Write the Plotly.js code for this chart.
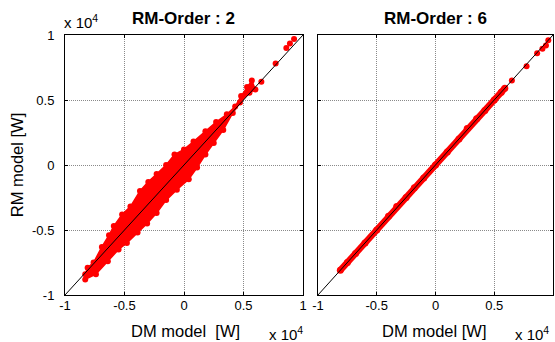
<!DOCTYPE html>
<html>
<head>
<meta charset="utf-8">
<script src="https://cdn.plot.ly/plotly-3.0.1.min.js"></script>
<style>
  html, body { margin: 0; padding: 0; background: #fff; }
  #chart { width: 555px; height: 342px; }
</style>
</head>
<body>
<div id="chart"></div>
<script>
// Power values in units of 1e4 W: DM model (x) against RM model (y).

// RM-Order 2: outline of the dense point cloud, upper edge then lower edge
const order2CloudX = [-0.83, -0.81, -0.76, -0.69, -0.63, -0.59, -0.52, -0.45, -0.37, -0.30, -0.23, -0.15, -0.08, 0.00, 0.08, 0.18, 0.27, 0.36, 0.43, 0.48, 0.53, 0.57,
                      0.60, 0.55, 0.47, 0.41, 0.33, 0.25, 0.18, 0.11, 0.04, -0.06, -0.15, -0.23, -0.31, -0.39, -0.48, -0.55, -0.64, -0.74, -0.83];
const order2CloudY = [-0.84, -0.79, -0.75, -0.63, -0.54, -0.47, -0.38, -0.32, -0.20, -0.13, -0.07, 0.00, 0.08, 0.12, 0.18, 0.26, 0.33, 0.39, 0.45, 0.53, 0.60, 0.65,
                      0.58, 0.555, 0.48, 0.40, 0.27, 0.17, 0.08, -0.02, -0.11, -0.19, -0.27, -0.37, -0.45, -0.52, -0.60, -0.65, -0.74, -0.84, -0.88];
// RM-Order 2: isolated points beyond the cloud
const order2OutX = [0.65, 0.77, 0.86, 0.89, 0.925];
const order2OutY = [0.64, 0.78, 0.90, 0.935, 0.97];

// RM-Order 6: narrow band of points along the diagonal
const order6BandX = [-0.81, -0.75, -0.68, -0.60, -0.50, -0.40, -0.33, -0.25, -0.18, -0.10, 0.00, 0.10, 0.20, 0.27, 0.35, 0.42, 0.50, 0.56, 0.59];
const order6BandY = [-0.81, -0.75, -0.68, -0.60, -0.50, -0.395, -0.32, -0.25, -0.175, -0.10, 0.00, 0.10, 0.20, 0.28, 0.355, 0.42, 0.50, 0.56, 0.59];
// RM-Order 6: isolated points beyond the band
const order6OutX = [0.65, 0.775, 0.865, 0.91, 0.94, 0.96];
const order6OutY = [0.65, 0.76, 0.86, 0.895, 0.92, 0.96];

// Reference line y = x
const diagX = [-1, 1];
const diagY = [-1, 1];

const tickVals = [-1, -0.5, 0, 0.5, 1];
const tickText = ['-1', '-0.5', '0', '0.5', '1'];

const panelTitles = ['RM-Order : 2', 'RM-Order : 6'];
const xTitles = ['DM model\u00a0 [W]', 'DM model [W]'];
const yTitle = 'RM model [W]';
const scaleLabel = 'x 10<sup>4</sup>';

const FONT = 'Liberation Sans, Arial, Helvetica, sans-serif';
const RED = 'rgb(255,0,0)';

function dot(size) {
  return { color: RED, size: size, opacity: 1, line: { width: 0, color: RED } };
}

const traces = [
  {
    x: order2CloudX, y: order2CloudY, xaxis: 'x', yaxis: 'y',
    type: 'scatter', mode: 'lines+markers', fill: 'toself', fillcolor: RED,
    line: { color: RED, width: 1.5 }, marker: dot(6),
    hoverinfo: 'skip', showlegend: false
  },
  {
    x: order2OutX, y: order2OutY, xaxis: 'x', yaxis: 'y',
    type: 'scatter', mode: 'markers', marker: dot(6),
    showlegend: false
  },
  {
    x: order6BandX, y: order6BandY, xaxis: 'x2', yaxis: 'y2',
    type: 'scatter', mode: 'lines+markers',
    line: { color: RED, width: 6.5 }, marker: dot(7),
    showlegend: false
  },
  {
    x: order6OutX, y: order6OutY, xaxis: 'x2', yaxis: 'y2',
    type: 'scatter', mode: 'markers', marker: dot(6),
    showlegend: false
  },
  {
    x: diagX, y: diagY, xaxis: 'x', yaxis: 'y',
    type: 'scatter', mode: 'lines', line: { color: '#000', width: 1 },
    showlegend: false
  },
  {
    x: diagX, y: diagY, xaxis: 'x2', yaxis: 'y2',
    type: 'scatter', mode: 'lines', line: { color: '#000', width: 1 },
    showlegend: false
  }
];

function axisBase(extra) {
  return Object.assign({
    range: [-1, 1],
    tickvals: tickVals,
    ticktext: tickText,
    ticks: 'inside',
    ticklen: 3,
    tickcolor: '#000',
    showline: true,
    linecolor: '#000',
    linewidth: 1,
    mirror: 'ticks',
    showgrid: true,
    gridcolor: '#8a8a8a',
    griddash: '1px,1px',
    zeroline: false,
    tickfont: { family: FONT, size: 13, color: '#000' },
    fixedrange: true
  }, extra);
}

function note(text, xref, x, y, xshift, yshift, xanchor, yanchor, font) {
  return { text: text, xref: xref, yref: 'paper', x: x, y: y, xshift: xshift, yshift: yshift,
           xanchor: xanchor, yanchor: yanchor, showarrow: false, font: font };
}

const titleFont = { family: FONT, size: 17, color: '#000' };
const labelFont = { family: FONT, size: 16.5, color: '#000' };
const scaleFont = { family: FONT, size: 15, color: '#000' };

const layout = {
  width: 555,
  height: 342,
  margin: { l: 65, r: 2, t: 35, b: 47 },
  paper_bgcolor: '#fff',
  plot_bgcolor: '#fff',
  showlegend: false,
  font: { family: FONT, color: '#000' },
  xaxis: axisBase({ domain: [0, 0.4877], anchor: 'y', ticklabelstandoff: -2 }),
  yaxis: axisBase({ domain: [0, 1], anchor: 'x', ticklabelstandoff: 7,
    title: { text: yTitle, font: labelFont, standoff: 4 } }),
  xaxis2: axisBase({ domain: [0.5184, 1], anchor: 'y2', ticklabelstandoff: -2 }),
  yaxis2: axisBase({ domain: [0, 1], anchor: 'x2', showticklabels: false }),
  annotations: [
    note('<b>' + panelTitles[0] + '</b>', 'x domain', 0.5, 1, 0, 17, 'center', 'middle', titleFont),
    note('<b>' + panelTitles[1] + '</b>', 'x2 domain', 0.5, 1, 0, 17, 'center', 'middle', titleFont),
    note(xTitles[0], 'x domain', 0.5, 0, 2, -36, 'center', 'middle', labelFont),
    note(xTitles[1], 'x2 domain', 0.5, 0, -1, -36, 'center', 'middle', labelFont),
    note(scaleLabel, 'x domain', 0, 1, -3, 2, 'left', 'bottom', scaleFont),
    note(scaleLabel, 'x domain', 1, 0, 2, -27, 'right', 'top', scaleFont),
    note(scaleLabel, 'x2 domain', 1, 0, -2, -27, 'right', 'top', scaleFont)
  ]
};

Plotly.newPlot('chart', traces, layout, { staticPlot: true, displayModeBar: false });
</script>
</body>
</html>
